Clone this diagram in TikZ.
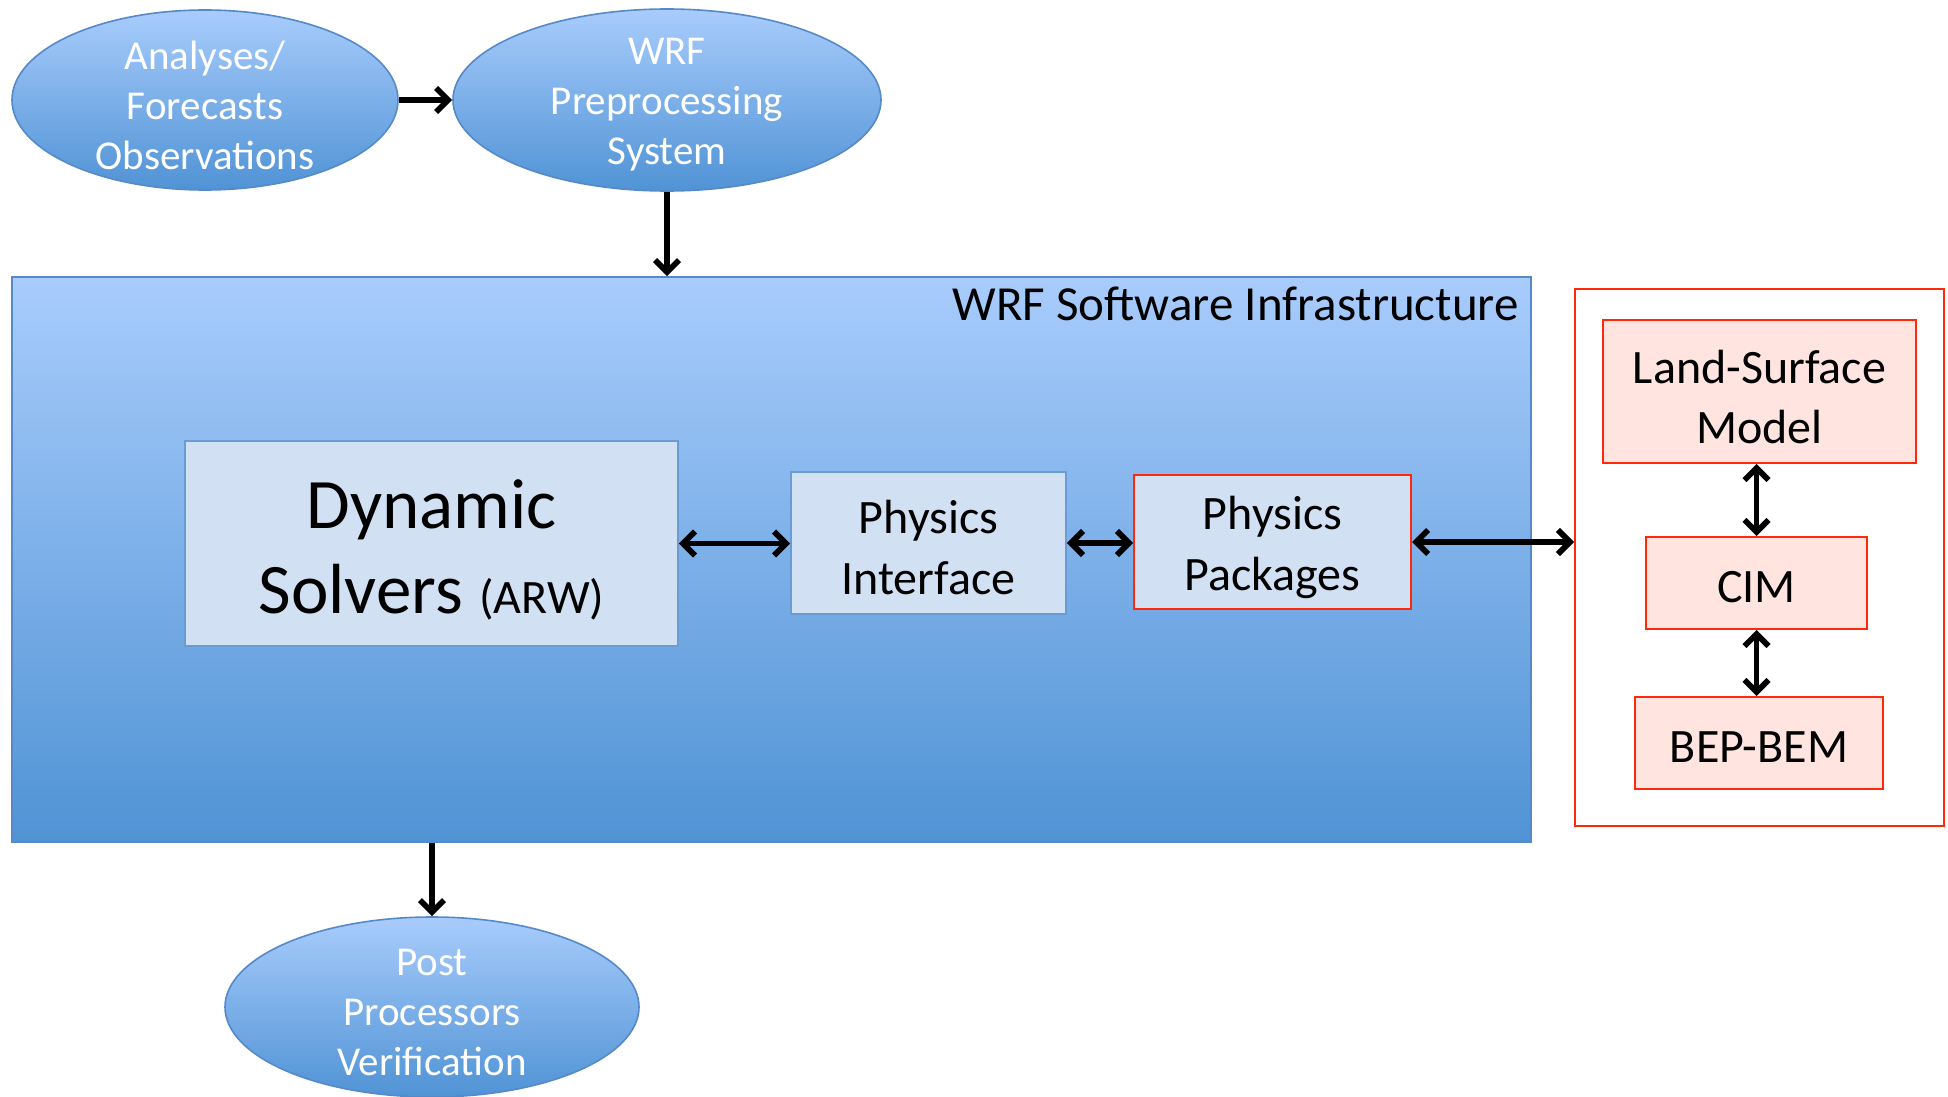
\documentclass[tikz,border=0pt]{standalone}
\usepackage{fontspec}
\setmainfont{Carlito}
\usetikzlibrary{arrows.meta,shapes.geometric}
\definecolor{gtop}{RGB}{168,204,252}
\definecolor{gbot}{RGB}{80,147,213}
\definecolor{bluebord}{RGB}{86,137,199}
\definecolor{lightfill}{RGB}{209,225,243}
\definecolor{lightbord}{RGB}{106,155,211}
\definecolor{redbord}{RGB}{255,40,10}
\definecolor{redfill}{RGB}{255,228,224}
\tikzset{
  ell/.style={ellipse, draw=bluebord, line width=0.8pt, top color=gtop, bottom color=gbot, inner sep=0pt},
  elltext/.style={inner sep=0pt, text=white, align=center, font=\fontsize{20.5}{25}\selectfont},
  lbox/.style={rectangle, draw=lightbord, line width=0.9pt, fill=lightfill, inner sep=0pt},
  rbox/.style={rectangle, draw=redbord, line width=1pt, fill=redfill, inner sep=0pt},
  boxtext/.style={inner sep=0pt, align=center, font=\fontsize{24}{30.5}\selectfont},
  conn/.style={line width=2.9pt, -{Straight Barb[length=6pt,width=12pt]}},
  dconn/.style={line width=2.9pt, {Straight Barb[length=6pt,width=12pt]}-{Straight Barb[length=6pt,width=12pt]}}
}
\begin{document}
\begin{tikzpicture}[x=0.5pt,y=-0.5pt]
\useasboundingbox (0,0) rectangle (1948,1097);
\clip (0,0) rectangle (1948,1097);
% top ellipses
\node[ell, minimum width=193pt, minimum height=90pt] (ana) at (205,100) {};
\node[elltext] (anat) at ([yshift=-2.5pt]ana.center) {Analyses/\\Forecasts\\Observations};
\node[ell, minimum width=214pt, minimum height=91pt] (wps) at (667,100) {};
\node[elltext] (wpst) at ([yshift=-2.5pt]wps.center) {WRF\\Preprocessing\\System};
% big box
\node[rectangle, draw=bluebord, line width=0.8pt, top color=gtop, bottom color=gbot,
  minimum width=759.5pt, minimum height=282.5pt, inner sep=0pt] (wrf) at (771.5,559.5) {};
\node[anchor=east, inner sep=0pt, font=\fontsize{24.5}{30}\selectfont] (title) at (1519,304) {WRF Software Infrastructure};
% inner boxes
\node[lbox, minimum width=246.5pt, minimum height=102.5pt] (dyn) at (431.5,543.5) {};
\node[boxtext, font=\fontsize{35.5}{42.5}\selectfont] (dynt) at ([yshift=-3pt]dyn.center)
  {Dynamic\\Solvers {\fontsize{24}{30}\selectfont(ARW)}};
\node[lbox, minimum width=137.5pt, minimum height=71pt] (pi) at (928.5,543) {};
\node[boxtext] (pit) at ([yshift=-2.5pt]pi.center) {Physics\\Interface};
\node[lbox, draw=redbord, line width=1pt, minimum width=138.5pt, minimum height=67pt] (pp) at (1272.5,542) {};
\node[boxtext] (ppt) at ([yshift=-2.5pt]pp.center) {Physics\\Packages};
% red outer box
\node[rectangle, draw=redbord, line width=1pt, fill=white, minimum width=184.5pt, minimum height=268.5pt, inner sep=0pt] (urb) at (1759.5,557.5) {};
\node[rbox, minimum width=156.5pt, minimum height=71.5pt] (lsm) at (1759.5,391.5) {};
\node[boxtext, font=\fontsize{24}{30}\selectfont] (lsmt) at ([yshift=-2.5pt]lsm.center) {Land-Surface\\Model};
\node[rbox, minimum width=110.5pt, minimum height=46pt] (cim) at (1756.5,583) {};
\node[boxtext] (cimt) at ([yshift=-2pt]cim.center) {CIM};
\node[rbox, minimum width=124pt, minimum height=46pt] (bep) at (1759,743) {};
\node[boxtext] (bept) at ([yshift=-2pt]bep.center) {BEP-BEM};
% post
\node[ell, minimum width=207pt, minimum height=90pt] (post) at (432,1007) {};
\node[elltext] (postt) at ([yshift=-2.5pt]post.center) {Post\\Processors\\Verification};
% connectors
\draw[conn] (ana.east) -- (wps.west);
\draw[conn] (wps.south) -- (wps.south |- wrf.north);
\draw[conn] (wrf.south -| post.north) -- (post.north);
\draw[dconn] (dyn.east) -- (dyn.east -| pi.west);
\draw[dconn] (pi.east) -- (pi.east -| pp.west);
\draw[dconn] (pp.east) -- (pp.east -| urb.west);
\draw[dconn] (lsm.south -| cim.north) -- (cim.north);
\draw[dconn] (cim.south) -- (cim.south |- bep.north);
\end{tikzpicture}
\end{document}
